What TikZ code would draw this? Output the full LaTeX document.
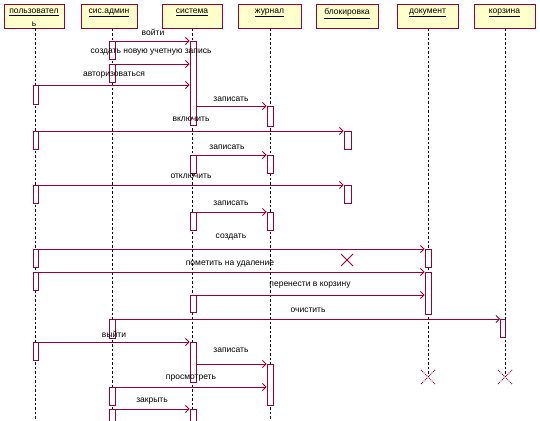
\documentclass[tikz,border=0pt]{standalone}
\usepackage{fontspec}
\setmainfont{Liberation Sans}
\usetikzlibrary{arrows.meta}
\definecolor{rr}{HTML}{990033}
\definecolor{ry}{HTML}{FFFFCC}
\tikzset{
 head/.style={draw=rr, fill=ry, line width=1pt, minimum height=24pt, inner sep=0pt},
 hl/.style={anchor=north, inner sep=1pt, yshift=-3pt, font=\fontsize{8.5}{11}\selectfont, align=center},
 life/.style={draw=black, line width=0.9pt, dash pattern=on 2.5pt off 2pt},
 act/.style={draw=rr, fill=white, line width=0.9pt, anchor=north, inner sep=0pt},
 msg/.style={draw=rr, line width=0.8pt, -{Straight Barb[length=3.5pt,width=7pt]}},
 lbl/.style={font=\fontsize{8.5}{10}\selectfont, inner sep=0.5pt},
 kill/.style={draw=rr, line width=0.8pt},
 killd/.style={draw=rr, line width=0.9pt, densely dotted},
}
\begin{document}
\begin{tikzpicture}[x=1pt,y=-1pt]
\useasboundingbox (0,0) rectangle (540,420);
% heads
\node[head, minimum width=60pt, label={[hl]north:\underline{пользовател}\\[2.5pt]\underline{ь}}] (h1) at (34,17) {};
\node[head, minimum width=56pt, label={[hl]north:\underline{сис.админ}}] (h2) at (109,17) {};
\node[head, minimum width=60pt, label={[hl]north:\underline{система}}] (h3) at (192,17) {};
\node[head, minimum width=63pt, label={[hl]north:\underline{журнал}}] (h4) at (269.5,17) {};
\node[head, minimum width=62pt, label={[hl]north:\underline{блокировка}}] (h5) at (347,17) {};
\node[head, minimum width=61pt, label={[hl]north:\underline{документ}}] (h6) at (427.5,17) {};
\node[head, minimum width=61pt, label={[hl]north:\underline{корзина}}] (h7) at (504.5,17) {};
% lifelines
\coordinate (l1t) at (35,29);  \coordinate (l1b) at (35,420);
\coordinate (l2t) at (112,29); \coordinate (l2b) at (112,420);
\coordinate (l3t) at (192,29); \coordinate (l3b) at (192,420);
\coordinate (l4t) at (270,29); \coordinate (l4b) at (270,420);
\coordinate (l6t) at (428,29); \coordinate (l6b) at (428,377);
\coordinate (l7t) at (505,29); \coordinate (l7b) at (505,377);
\draw[life] (l1t) -- (l1b);
\draw[life] (l2t) -- (l2b);
\draw[life] (l3t) -- (l3b);
\draw[life] (l4t) -- (l4b);
\draw[life] (l6t) -- (l6b);
\draw[life] (l7t) -- (l7b);
% activations: user
\node[act, minimum width=5pt, minimum height=19pt] (u1) at (35.5,85) {};
\node[act, minimum width=5pt, minimum height=18pt] (u2) at (35.5,131) {};
\node[act, minimum width=5pt, minimum height=18pt] (u3) at (35.5,185) {};
\node[act, minimum width=5pt, minimum height=18pt] (u4) at (35.5,249) {};
\node[act, minimum width=5pt, minimum height=18pt] (u5) at (35.5,272) {};
\node[act, minimum width=5pt, minimum height=18pt] (u6) at (35.5,342) {};
% sysadmin
\node[act, minimum width=6pt, minimum height=18pt] (sa1) at (112,41) {};
\node[act, minimum width=6pt, minimum height=18pt] (sa2) at (112,64) {};
\node[act, minimum width=6pt, minimum height=19pt] (sa3) at (112,319) {};
\node[act, minimum width=6pt, minimum height=18pt] (sa4) at (112,387) {};
\node[act, minimum width=6pt, minimum height=12pt] (sa5) at (112,409) {};
% system
\node[act, minimum width=6pt, minimum height=84pt] (sy1) at (193,41) {};
\node[act, minimum width=6pt, minimum height=18pt] (sy2) at (193,155) {};
\node[act, minimum width=6pt, minimum height=18pt] (sy3) at (193,212) {};
\node[act, minimum width=6pt, minimum height=17pt] (sy4) at (193,295) {};
\node[act, minimum width=6pt, minimum height=40pt] (sy5) at (193,342) {};
\node[act, minimum width=6pt, minimum height=12pt] (sy6) at (193,409) {};
% journal
\node[act, minimum width=6pt, minimum height=20pt] (j1) at (270,106) {};
\node[act, minimum width=6pt, minimum height=18pt] (j2) at (270,155) {};
\node[act, minimum width=6pt, minimum height=18pt] (j3) at (270,212) {};
\node[act, minimum width=6pt, minimum height=41pt] (j4) at (270,364) {};
% lock
\node[act, minimum width=7pt, minimum height=18pt] (b1) at (347.5,131) {};
\node[act, minimum width=7pt, minimum height=18pt] (b2) at (347.5,185) {};
% document
\node[act, minimum width=6pt, minimum height=18pt] (d1) at (428,249) {};
\node[act, minimum width=6pt, minimum height=42pt] (d2) at (428,272) {};
% bin
\node[act, minimum width=5pt, minimum height=18pt] (k1) at (503,319) {};
% messages
\draw[msg] (sa1.north east) -- (sy1.north west);
\draw[msg] (sa2.north east) -- (sy1.west |- sa2.north);
\draw[msg] (u1.north east) -- (sy1.west |- u1.north);
\draw[msg] (sy1.east |- j1.north) -- (j1.north west);
\draw[msg] (u2.north east) -- (b1.north west);
\draw[msg] (sy2.north east) -- (j2.north west);
\draw[msg] (u3.north east) -- (b2.north west);
\draw[msg] (sy3.north east) -- (j3.north west);
\draw[msg] (u4.north east) -- (d1.north west);
\draw[msg] (u5.north east) -- (d2.north west);
\draw[msg] (sy4.north east) -- (d2.west |- sy4.north);
\draw[msg] (sa3.north east) -- (k1.north west);
\draw[msg] (u6.north east) -- (sy5.north west);
\draw[msg] (sy5.east |- j4.north) -- (j4.north west);
\draw[msg] (sa4.north east) -- (j4.west |- sa4.north);
\draw[msg] (sa5.north east) -- (sy6.north west);
% labels
\node[lbl] (t1) at (153,32) {войти};
\node[lbl] (t2) at (151,52) {создать новую учетную запись};
\node[lbl] (t3) at (114,75) {авторизоваться};
\node[lbl] (t4) at (231,99) {записать};
\node[lbl] (t5) at (191,119) {включить};
\node[lbl] (t6) at (227,147) {записать};
\node[lbl] (t7) at (191,176) {отключить};
\node[lbl] (t8) at (231,203) {записать};
\node[lbl] (t9) at (231,237) {создать};
\node[lbl] (t10) at (230,264) {пометить на удаление};
\node[lbl] (t11) at (310,285) {перенести в корзину};
\node[lbl] (t12) at (308,310) {очистить};
\node[lbl] (t13) at (114,334) {выйти};
\node[lbl] (t14) at (231,350) {записать};
\node[lbl] (t15) at (191,378) {просмотреть};
\node[lbl] (t16) at (152,401) {закрыть};
% destruction marks
\draw[kill] (341,254) -- (353,266) (341,266) -- (353,254);
\draw[killd] (421,370) -- (435,384) (421,384) -- (435,370);
\draw[killd] (498,370) -- (512,384) (498,384) -- (512,370);
\end{tikzpicture}
\end{document}
